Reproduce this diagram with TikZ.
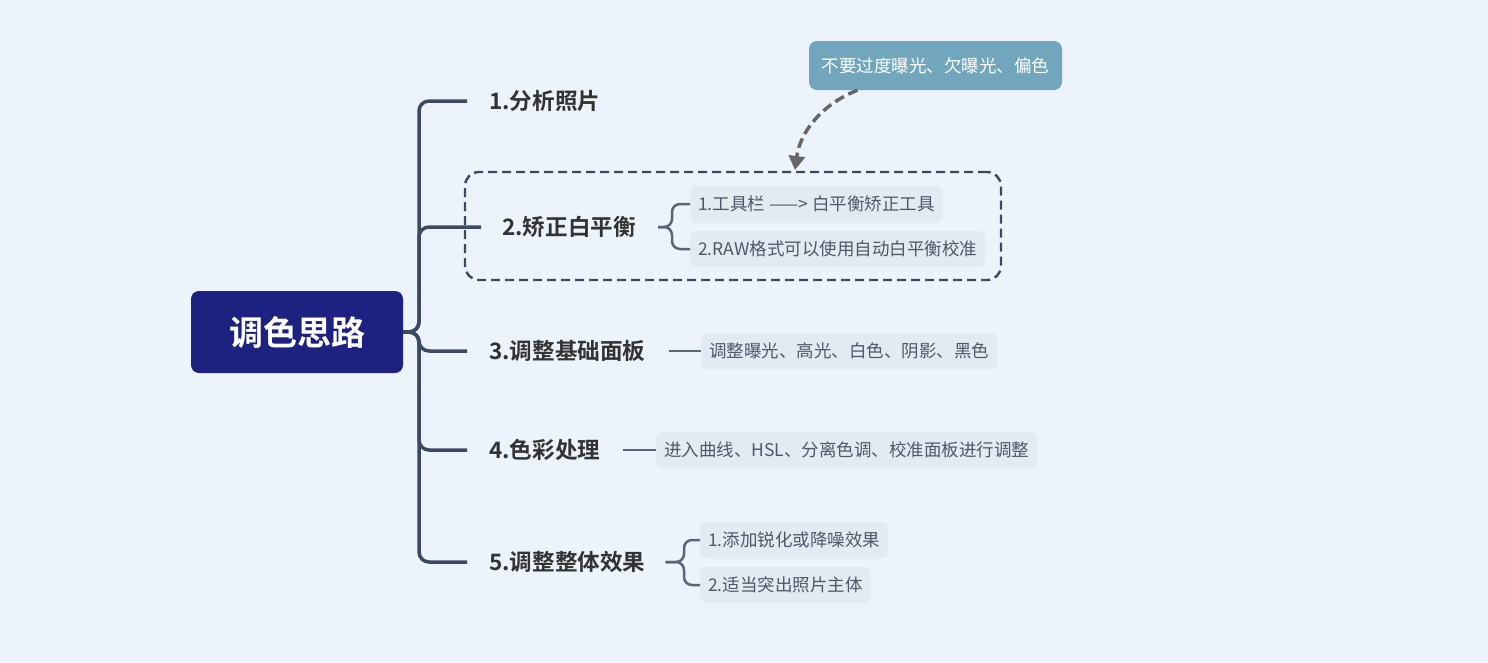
\documentclass[tikz,border=0pt]{standalone}
\usepackage{fontspec}
\setmainfont{Noto Sans CJK SC}[BoldFont={Noto Sans CJK SC Bold}]
\usetikzlibrary{arrows.meta}
\definecolor{bgc}{HTML}{EDF3FA}
\definecolor{rootc}{HTML}{1D2180}
\definecolor{connc}{HTML}{3B4A62}
\definecolor{subc}{HTML}{E3EAF2}
\definecolor{callc}{HTML}{72A6BD}
\definecolor{arrc}{HTML}{666666}
\definecolor{labc}{HTML}{333333}
\definecolor{subtc}{HTML}{4E5868}
\begin{document}
\begin{tikzpicture}[x=1pt,y=-1pt,
  conn/.style={draw=connc,line width=3.5pt,rounded corners=10pt},
  subconn/.style={draw=connc!85!white,line width=2.5pt,rounded corners=8pt},
  rootbox/.style={fill=rootc,rounded corners=8pt,minimum width=212pt,minimum height=82pt,text=white,font=\fontsize{34}{40}\selectfont\bfseries},
  lab/.style={anchor=west,inner sep=0pt,text=labc,font=\fontsize{22.6}{27}\selectfont\bfseries},
  subbox/.style={anchor=west,fill=subc,rounded corners=6pt,minimum height=36pt,inner xsep=8pt,inner ysep=0pt,text=subtc,font=\fontsize{17.5}{21}\selectfont},
  dashbox/.style={draw=connc,line width=2.4pt,dash pattern=on 9pt off 5pt,rounded corners=14pt},
  callbox/.style={fill=callc,rounded corners=8pt,minimum width=253pt,minimum height=49pt,text=white,font=\fontsize{17.5}{21}\selectfont},
  callarrow/.style={draw=arrc,line width=3.5pt,dash pattern=on 10pt off 5pt,-{Triangle[length=14pt,width=16pt]}}
]
\fill[bgc] (0,0) rectangle (1488,662);
\useasboundingbox (0,0) rectangle (1488,662);

\node[dashbox,minimum width=536pt,minimum height=108pt] (box) at (733,226) {};

\node[rootbox] (root) at (297,332) {调色思路};
\coordinate (j) at (419,332);

\node[lab] (l1) at (489,101) {1.分析照片};
\node[lab] (l2) at (502,227) {2.矫正白平衡};
\node[lab] (l3) at (489,351) {3.调整基础面板};
\node[lab] (l4) at (489,450) {4.色彩处理};
\node[lab] (l5) at (489,562) {5.调整整体效果};

\draw[conn] (root.east) -- (j) |- ([xshift=-22pt]l1.west);
\draw[conn] (root.east) -- (j) |- ([xshift=-21pt]l2.west);
\draw[conn] (root.east) -- (j) |- ([xshift=-22pt]l3.west);
\draw[conn] (root.east) -- (j) |- ([xshift=-22pt]l4.west);
\draw[conn] (root.east) -- (j) |- ([xshift=-22pt]l5.west);

\node[subbox] (s21) at (690,204) {1.工具栏 ——> 白平衡矫正工具};
\node[subbox] (s22) at (690,249) {2.RAW格式可以使用自动白平衡校准};
\node[subbox] (s3) at (701,351) {调整曝光、高光、白色、阴影、黑色};
\node[subbox] (s4) at (656,450) {进入曲线、HSL、分离色调、校准面板进行调整};
\node[subbox] (s51) at (700,540) {1.添加锐化或降噪效果};
\node[subbox] (s52) at (700,585) {2.适当突出照片主体};

\coordinate (b2) at (672,227);
\draw[subconn] ([xshift=22pt]l2.east) -- (b2) |- (s21.west);
\draw[subconn] ([xshift=22pt]l2.east) -- (b2) |- (s22.west);
\draw[subconn] ([xshift=23pt]l3.east) -- (s3.west);
\draw[subconn] ([xshift=23pt]l4.east) -- (s4.west);
\coordinate (b5) at (684,562);
\draw[subconn] ([xshift=20pt]l5.east) -- (b5) |- (s51.west);
\draw[subconn] ([xshift=20pt]l5.east) -- (b5) |- (s52.west);

\node[callbox] (call) at (935.5,65.5) {不要过度曝光、欠曝光、偏色};
\coordinate (tip) at (795,170);
\draw[callarrow] ([xshift=-78pt]call.south) .. controls (822,104) and (800,132) .. (tip);
\end{tikzpicture}
\end{document}
